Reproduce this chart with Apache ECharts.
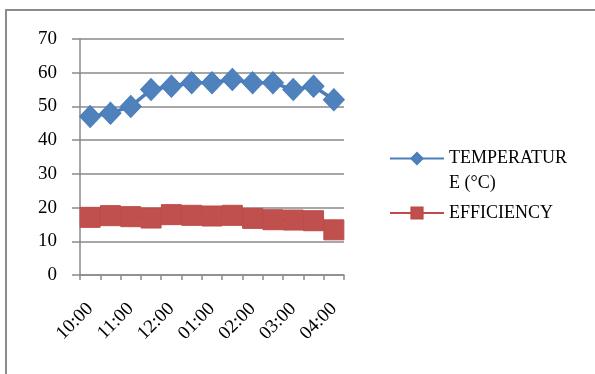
<!DOCTYPE html>
<html>
<head>
<meta charset="utf-8">
<script src="https://cdn.jsdelivr.net/npm/echarts@6/dist/echarts.min.js"></script>
<style>
  html, body { margin: 0; padding: 0; background: #fff; }
  #chart { width: 595px; height: 374px; }
</style>
</head>
<body>
<div id="chart"></div>
<script>
// Half-hour readings through the day
const times = ['10:00', '10:30', '11:00', '11:30', '12:00', '12:30', '01:00',
               '01:30', '02:00', '02:30', '03:00', '03:30', '04:00'];
const temperature = [47, 48, 50, 55, 56, 57, 57, 58, 57, 57, 55, 56, 52];
const efficiency = [17.1, 17.6, 17.3, 16.9, 17.9, 17.7, 17.5, 17.7, 16.8, 16.4, 16.3, 16.1, 13.4];
const yTicks = [0, 10, 20, 30, 40, 50, 60, 70];

const TEMP_NAME = 'TEMPERATURE (°C)';
const EFF_NAME = 'EFFICIENCY';

const serif = '"Liberation Serif", "Times New Roman", serif';
const gridGray = '#8a8a8a';

const chart = echarts.init(document.getElementById('chart'), null, { renderer: 'canvas' });

chart.setOption({
  animation: false,
  backgroundColor: '#fff',
  graphic: [{
    type: 'rect',
    shape: { x: 6, y: 10, width: 620, height: 400 },
    style: { fill: 'none', stroke: '#8c8c8c', lineWidth: 2 },
    silent: true
  }],
  grid: { left: 80, right: 251, top: 39, bottom: 99, containLabel: false },
  legend: [{
    orient: 'vertical',
    left: 389,
    top: 121,
    padding: 0,
    itemWidth: 54,
    itemHeight: 14,
    itemGap: 0,
    data: [TEMP_NAME],
    // the wrapped name sits with its first line beside the icon
    formatter: () => '\nTEMPERATUR\nE (°C)',
    textStyle: { fontFamily: serif, fontSize: 18, color: '#000', lineHeight: 25 }
  }, {
    orient: 'vertical',
    left: 389,
    top: 201,
    padding: 0,
    itemWidth: 54,
    itemHeight: 14,
    data: [EFF_NAME],
    textStyle: { fontFamily: serif, fontSize: 18, color: '#000', lineHeight: 24 }
  }],
  xAxis: {
    type: 'category',
    data: times,
    boundaryGap: true,
    axisLine: { lineStyle: { color: gridGray, width: 1.5 } },
    axisTick: { show: true, interval: 0, length: 5, lineStyle: { color: gridGray, width: 1.5 } },
    axisLabel: {
      interval: 1,
      rotate: 45,
      margin: 31,
      fontFamily: serif,
      fontSize: 19,
      color: '#000'
    },
    splitLine: { show: false }
  },
  yAxis: {
    type: 'value',
    min: yTicks[0],
    max: yTicks[yTicks.length - 1],
    interval: 10,
    axisLine: { show: true, lineStyle: { color: gridGray, width: 1.5 } },
    axisTick: { show: true, inside: false, length: 8, lineStyle: { color: gridGray, width: 1.5 } },
    axisLabel: {
      margin: 23,
      fontFamily: serif,
      fontSize: 19,
      color: '#000',
      formatter: v => (yTicks.includes(v) ? String(v) : '')
    },
    splitLine: { show: true, lineStyle: { color: gridGray, width: 1.5 } }
  },
  series: [{
    name: TEMP_NAME,
    type: 'line',
    data: temperature,
    symbol: 'diamond',
    symbolSize: [21, 22],
    showAllSymbol: true,
    lineStyle: { color: '#4a7ebb', width: 3.5 },
    itemStyle: { color: '#4f81bd', borderColor: '#4a7ebb', borderWidth: 1 },
    z: 3
  }, {
    name: EFF_NAME,
    type: 'line',
    data: efficiency,
    symbol: 'rect',
    symbolSize: 20,
    showAllSymbol: true,
    lineStyle: { color: '#be4b48', width: 3.5 },
    itemStyle: { color: '#c0504d', borderColor: '#be4b48', borderWidth: 1 },
    z: 2
  }]
});
</script>
</body>
</html>
